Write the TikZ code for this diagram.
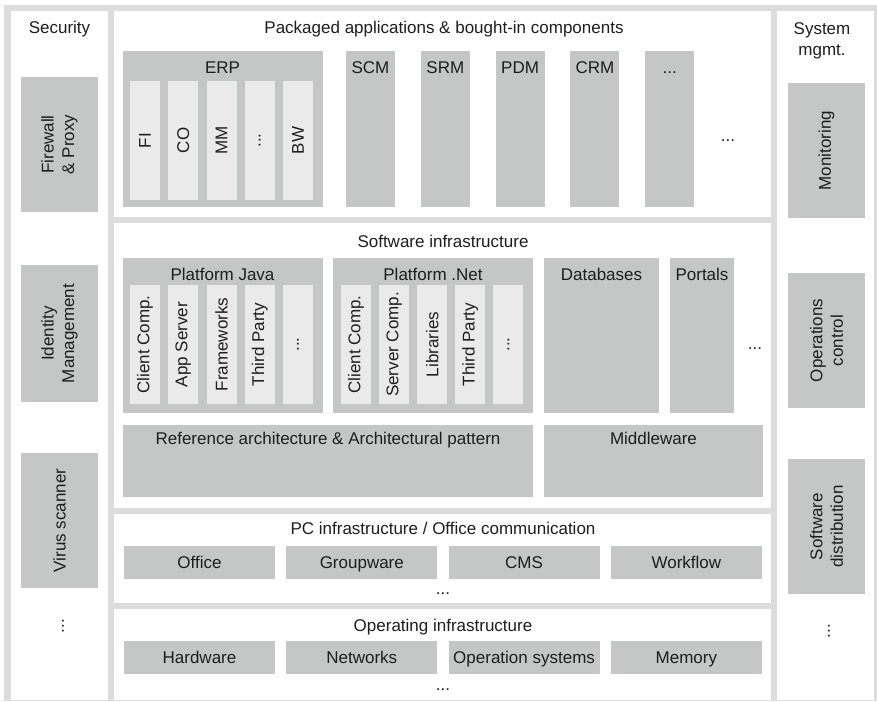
\documentclass[tikz,border=0pt]{standalone}
\usepackage{fontspec}
\setmainfont{Liberation Sans}
\usepackage{xcolor}
\usetikzlibrary{positioning}
\definecolor{framegray}{HTML}{DCDCDC}
\definecolor{boxgray}{HTML}{C5C6C6}
\definecolor{subgray}{HTML}{EAEAEA}
\definecolor{txtgray}{HTML}{1E1E1E}
\newcommand{\moredots}{...}

\begin{document}
\begin{tikzpicture}[x=1pt, y=-1pt,
    box/.style={fill=boxgray},
    subbox/.style={fill=subgray},
    lbl/.style={inner sep=0pt, text=txtgray, font=\fontsize{17}{20.5}\selectfont},
    ttl/.style={lbl, anchor=base},
    vlbl/.style={lbl, rotate=90, align=center}]
    \useasboundingbox (0,0) rectangle (877,701);

    % Rahmen und weisse Felder
    \fill[framegray] (4,5) rectangle (877,701);
    \fill[white] (11,11) rectangle (108,699.5);
    \fill[white] (777,11) rectangle (874,699.5);
    \fill[white] (114,11) rectangle (771,217);
    \fill[white] (114,223) rectangle (771,508);
    \fill[white] (114,514) rectangle (771,603);
    \fill[white] (114,609) rectangle (771,699.5);

    % Security
    \node[ttl] (sec) at (59.5,34) {Security};
    \fill[box] (21,77) rectangle (98,212);
    \node[vlbl] (fw) at (59.5,144.5) {Firewall\\\& Proxy};
    \fill[box] (21,265) rectangle (98,402);
    \node[vlbl] (idm) at (59.5,333.5) {Identity\\Management};
    \fill[box] (21,453) rectangle (98,588);
    \node[vlbl] (virus) at (59.5,520.5) {Virus scanner};
    \node[vlbl] (secdots) at (63,626) {\moredots};

    % System mgmt.
    \node[lbl, anchor=north, align=center] (sys) at (822,22.5) {System\\mgmt.};
    \fill[box] (788,83) rectangle (865,218);
    \node[vlbl] (mon) at (826.5,150.5) {Monitoring};
    \fill[box] (788,273) rectangle (865,408);
    \node[vlbl] (opctl) at (826.5,340.5) {Operations\\control};
    \fill[box] (788,459) rectangle (865,594);
    \node[vlbl] (swdist) at (826.5,526.5) {Software\\distribution};
    \node[vlbl] (sysdots) at (829,631) {\moredots};

    % Packaged applications
    \node[ttl] (pkg) at (444,34) {Packaged applications \& bought-in components};
    \fill[box] (123,51) rectangle (323,207);
    \node[ttl] (erp) at (222.5,73) {ERP};
    \foreach \t [count=\i] in {FI,CO,MM,\moredots,BW}{
        \fill[subbox] ({130+(\i-1)*38.25},81) rectangle ++(30,119);
        \node[vlbl] (erp\i) at ({145+(\i-1)*38.25},140.5) {\t};
    }
    \foreach \t [count=\i] in {SCM,SRM,PDM,CRM,\moredots}{
        \fill[box] ({346+(\i-1)*74.8},51) rectangle ++(49,156);
        \node[ttl] (app\i) at ({370.5+(\i-1)*74.8},73) {\t};
    }
    \node[ttl] (pkgdots) at (728,141) {\moredots};

    % Software infrastructure
    \node[ttl] (swi) at (443,247) {Software infrastructure};
    \fill[box] (123,258) rectangle (323,413);
    \node[ttl] (java) at (222.5,280) {Platform Java};
    \foreach \t [count=\i] in {Client Comp.,App Server,Frameworks,Third Party,\moredots}{
        \fill[subbox] ({130+(\i-1)*38.25},285) rectangle ++(30,119);
        \node[vlbl] (java\i) at ({145+(\i-1)*38.25},344.5) {\t};
    }
    \fill[box] (333,258) rectangle (533,413);
    \node[ttl] (net) at (433,280) {Platform .Net};
    \foreach \t [count=\i] in {Client Comp.,Server Comp.,Libraries,Third Party,\moredots}{
        \fill[subbox] ({341+(\i-1)*38.1},285) rectangle ++(30,119);
        \node[vlbl] (net\i) at ({356+(\i-1)*38.1},344.5) {\t};
    }
    \fill[box] (544,258) rectangle (659,413);
    \node[ttl] (db) at (601.5,280) {Databases};
    \fill[box] (670,258) rectangle (734,413);
    \node[ttl] (portal) at (702,280) {Portals};
    \node[ttl] (swidots) at (755,349) {\moredots};
    \fill[box] (123,425) rectangle (533,497);
    \node[ttl] (refarch) at (328,444) {Reference architecture \& Architectural pattern};
    \fill[box] (544,425) rectangle (763,497);
    \node[ttl] (mw) at (653.5,444) {Middleware};

    % PC infrastructure
    \node[ttl] (pc) at (443,534) {PC infrastructure / Office communication};
    \foreach \t [count=\i] in {Office,Groupware,CMS,Workflow}{
        \fill[box] ({124+(\i-1)*162.3},546) rectangle ++(151,33);
        \node[ttl] (pc\i) at ({199.5+(\i-1)*162.3},568.5) {\t};
    }
    \node[ttl] (pcdots) at (443,594) {\moredots};

    % Operating infrastructure
    \node[ttl] (op) at (443,631) {Operating infrastructure};
    \foreach \t [count=\i] in {Hardware,Networks,Operation systems,Memory}{
        \fill[box] ({124+(\i-1)*162.3},641) rectangle ++(151,33);
        \node[ttl] (op\i) at ({199.5+(\i-1)*162.3},663.5) {\t};
    }
    \node[ttl] (opdots) at (443,690) {\moredots};
\end{tikzpicture}
\end{document}
